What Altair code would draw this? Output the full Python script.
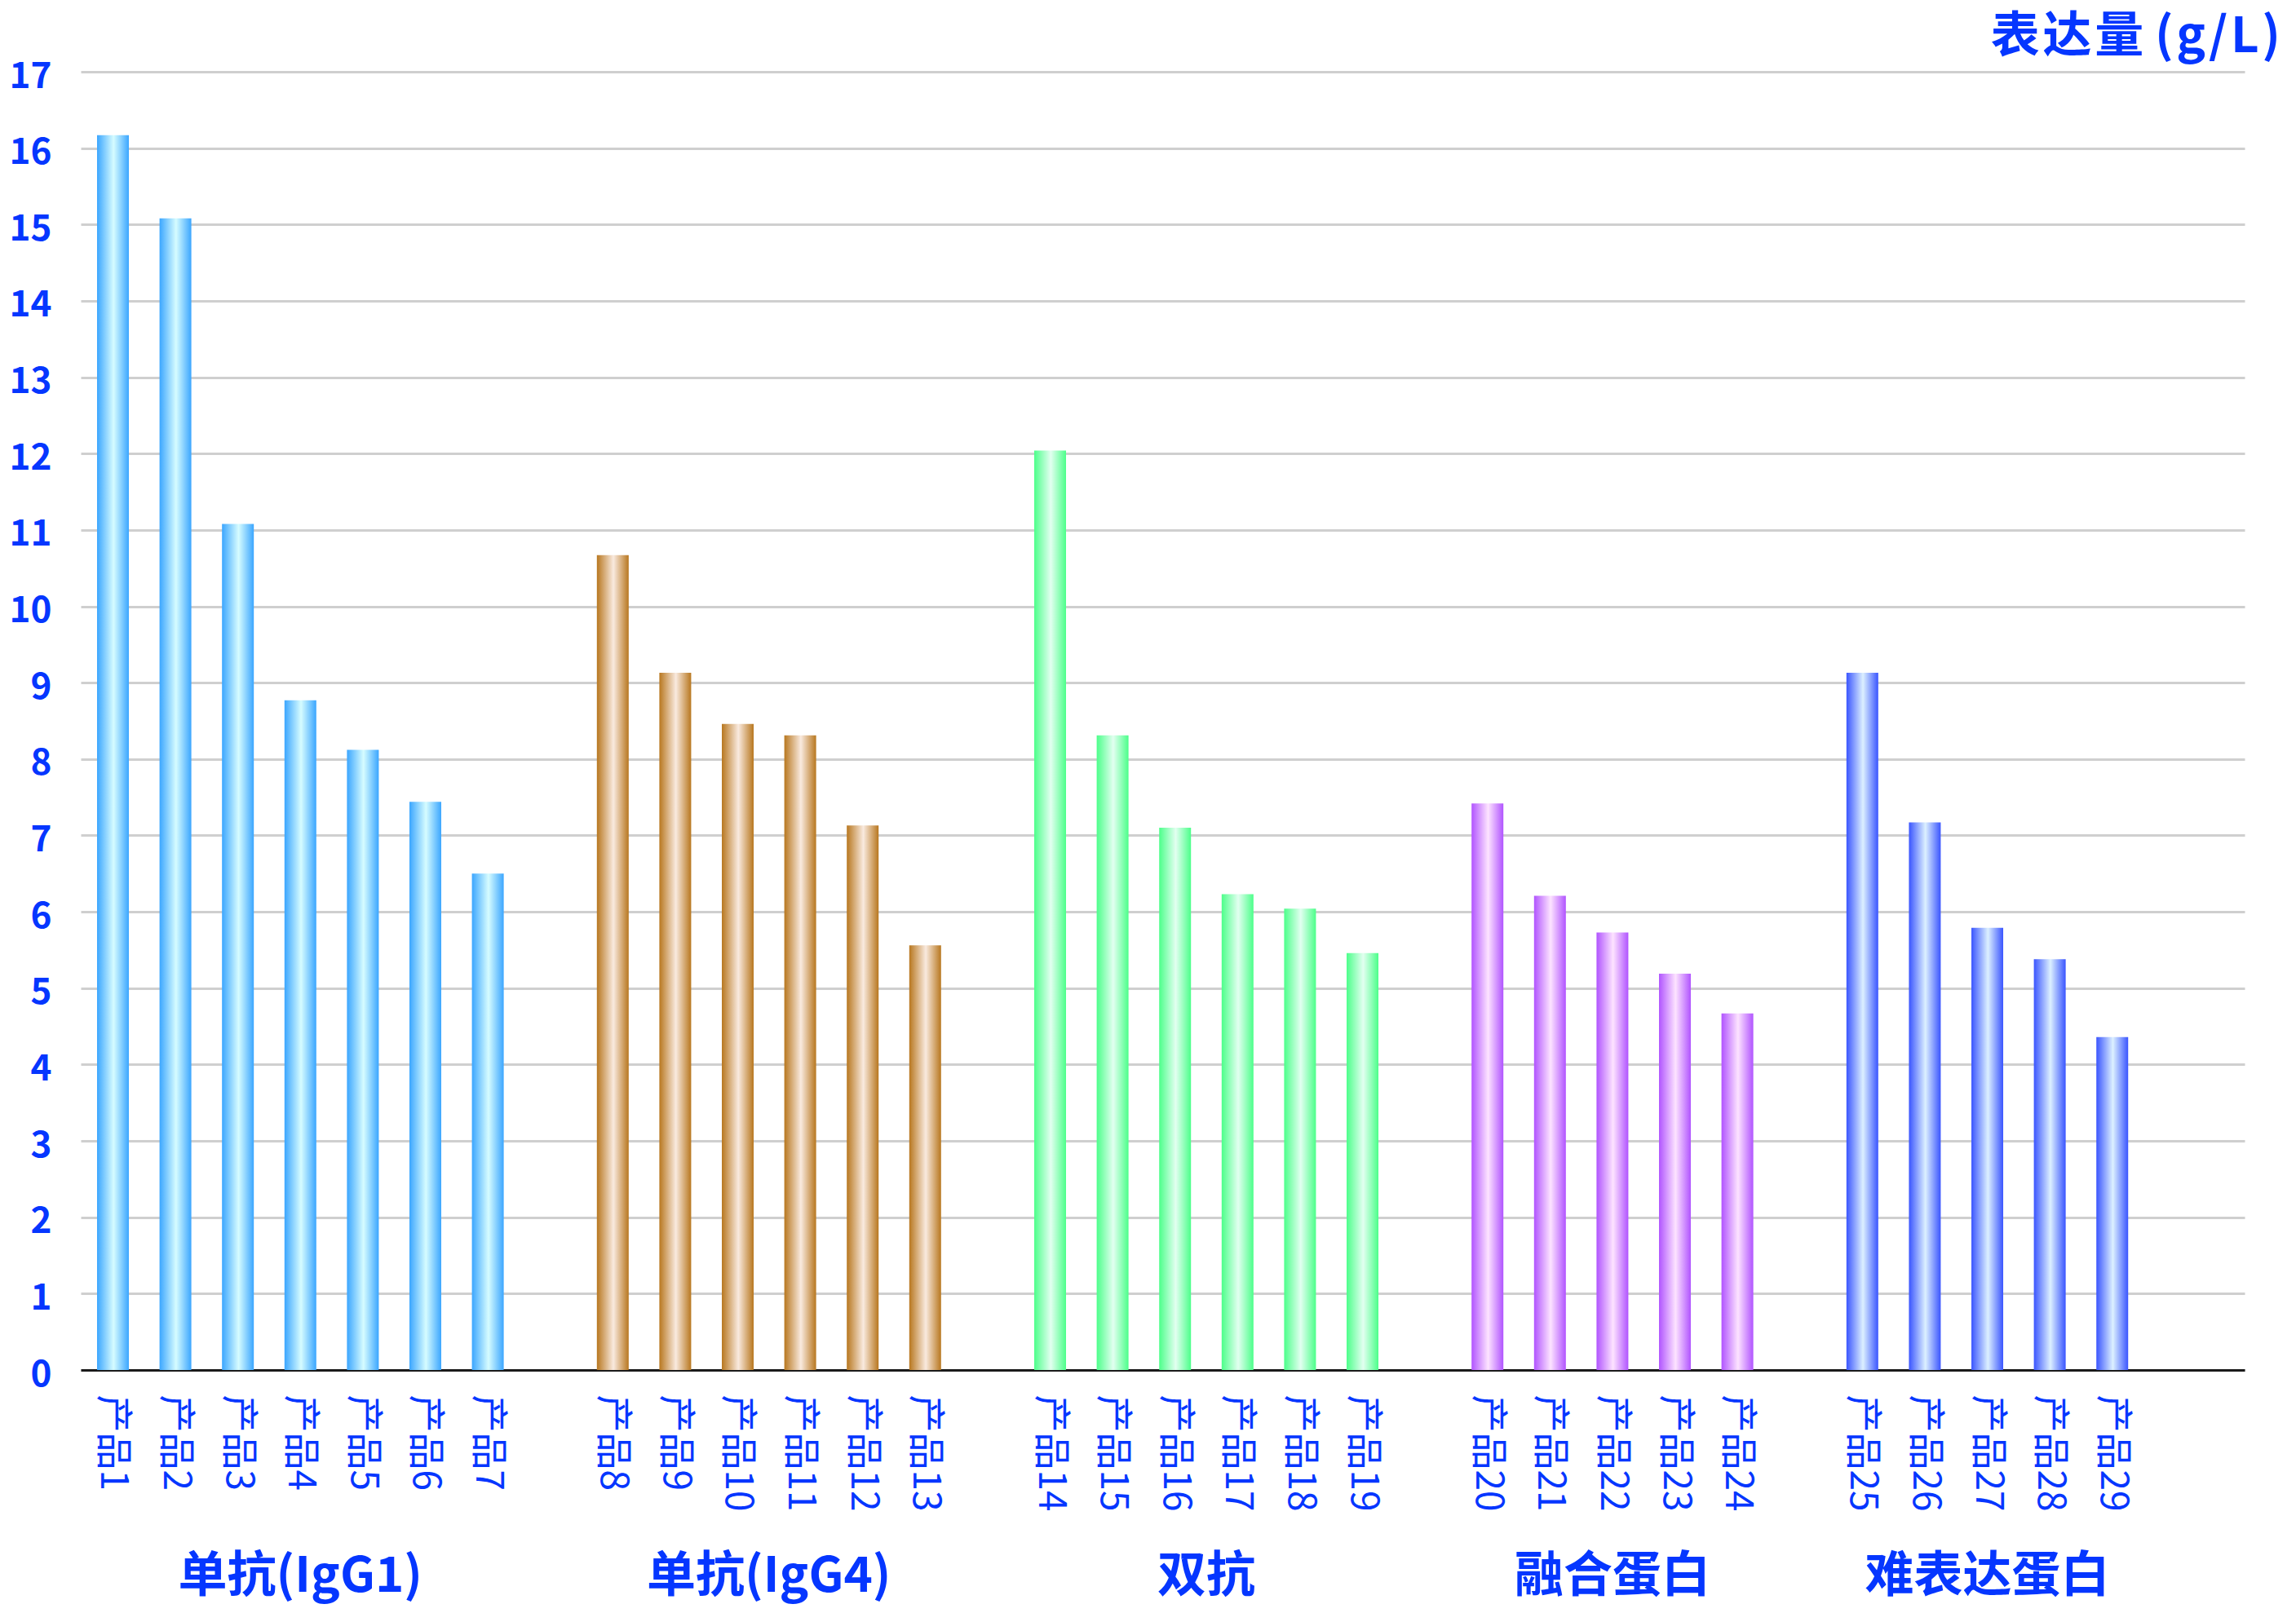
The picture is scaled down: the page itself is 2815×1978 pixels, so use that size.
import altair as alt
import pandas as pd

# ---------------- data ----------------
groups = ["单抗(IgG1)", "单抗(IgG4)", "双抗", "融合蛋白", "难表达蛋白"]
group_sizes = [7, 6, 6, 5, 5]
products = ["产品" + str(i) for i in range(1, 30)]
values = [16.17, 15.08, 11.08, 8.77, 8.12, 7.44, 6.50,
          10.67, 9.13, 8.46, 8.31, 7.13, 5.56,
          12.04, 8.31, 7.10, 6.23, 6.04, 5.46,
          7.42, 6.21, 5.73, 5.19, 4.67,
          9.13, 7.17, 5.79, 5.38, 4.36]
y_ticks = list(range(0, 18))
title_text = "表\u200a达\u200a量 (\u200ag\u200a/\u200aL\u200a)"

edge_colors = ["#3ba6ff", "#b8771f", "#4cff8a", "#b154ff", "#3a55ff"]
mid_colors = ["#d6fcff", "#f9eadf", "#e2fff0", "#fde3ff", "#dcf0ff"]

# ---------------- style / layout ----------------
BLUE = "#0536ff"
FONT = "Noto Sans CJK SC"
W, H = 2653, 1592
PI, PO, ALIGN = 0.491, 0.5625, 0.232

group_col = []
for g, n in zip(groups, group_sizes):
    group_col += [g] * n
df = pd.DataFrame({"product": products, "value": values, "group": group_col})

# x domain with spacer slots between groups (and one trailing spacer)
domain = []
centers = []
k = 0
for gi, (g, n) in enumerate(zip(groups, group_sizes)):
    slots = list(range(len(domain), len(domain) + n))
    domain += products[k:k + n]
    centers.append(sum(slots) / n)
    k += n
    domain.append(" " * (gi + 1))
n_slots = len(domain)
qa = -(2 * PO * ALIGN + (1 - PI) / 2)
qb = qa + n_slots - PI + 2 * PO
gdf = pd.DataFrame({"group": groups, "center": centers})

xscale = alt.Scale(domain=domain, paddingInner=PI, paddingOuter=PO, align=ALIGN, round=False)
xaxis = alt.Axis(title=None, labelAngle=90, labelFont=FONT, labelFontSize=46, labelColor=BLUE,
                 labelPadding=30, ticks=False, tickSize=0, domainColor="#1a1a1a", domainWidth=3,
                 grid=False, labelAlign="left", labelBaseline="middle", labelOverlap=False,
                 labelLimit=400)
yscale = alt.Scale(domain=[0, 17], nice=False)
yaxis = alt.Axis(values=y_ticks, title=None, domain=False, ticks=False, tickSize=0,
                 labelFont=FONT, labelFontSize=44, labelFontWeight="bold", labelColor=BLUE,
                 labelPadding=36, labelOffset=6, gridColor="#cfcfcf", gridWidth=3,
                 labelBaseline="middle")

layers = []
for i, g in enumerate(groups):
    grad = alt.Gradient(gradient="linear", x1=0, x2=1, y1=0, y2=0,
                        stops=[alt.GradientStop(color=edge_colors[i], offset=0),
                               alt.GradientStop(color=mid_colors[i], offset=0.52),
                               alt.GradientStop(color=edge_colors[i], offset=1)])
    layers.append(
        alt.Chart(df).transform_filter(alt.datum.group == g)
        .mark_bar(color=grad)
        .encode(x=alt.X("product:N", scale=xscale, sort=domain, axis=xaxis),
                y=alt.Y("value:Q", scale=yscale, axis=yaxis))
    )
bars = alt.layer(*layers)

glabels = alt.Chart(gdf).mark_text(font=FONT, fontSize=60, fontWeight="bold", color=BLUE,
                                   align="center", baseline="middle").encode(
    x=alt.X("center:Q", scale=alt.Scale(domain=[qa, qb], nice=False, zero=False), axis=None),
    y=alt.value(H + 254),
    text="group:N",
)

ytitle = alt.Chart(pd.DataFrame({"t": [title_text]})).mark_text(
    font=FONT, fontSize=60, fontWeight="bold", color=BLUE, align="right", baseline="alphabetic"
).encode(x=alt.value(W + 44), y=alt.value(-24), text="t:N")

chart = alt.layer(bars, glabels, ytitle).resolve_scale(x="independent").properties(
    width=W, height=H,
    autosize=alt.AutoSizeParams(type="none"),
    padding={"left": 91, "top": 80, "right": 55, "bottom": 290},
    background="white",
).configure_view(strokeWidth=0)

chart.save("out.html", embed_options={"renderer": "svg", "actions": False})
